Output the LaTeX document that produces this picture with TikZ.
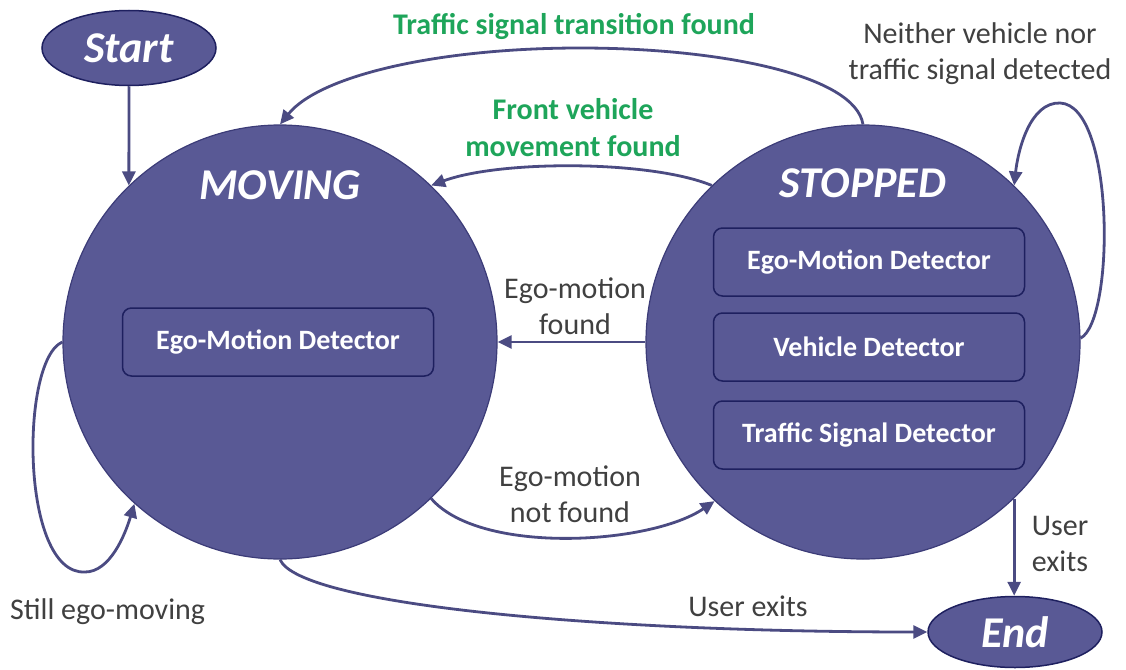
\documentclass[tikz,border=0pt]{standalone}
\usepackage{fontspec}
\setmainfont{Carlito}
\usetikzlibrary{arrows.meta,shapes.geometric}
\definecolor{stfill}{RGB}{89,89,149}
\definecolor{stborder}{RGB}{60,60,120}
\definecolor{boxborder}{RGB}{30,32,95}
\definecolor{connc}{RGB}{75,75,130}
\definecolor{greentxt}{RGB}{30,165,90}
\definecolor{graytxt}{RGB}{64,64,64}
\begin{document}
\begin{tikzpicture}[x=1pt,y=-1pt,
  statecirc/.style={circle, fill=stfill, draw=stborder, line width=1.2pt, minimum size=434pt, inner sep=0pt},
  termnode/.style={ellipse, fill=stfill, draw=boxborder, line width=1.5pt, inner sep=0pt, text=white,
    font=\fontsize{44}{50}\selectfont\bfseries\itshape},
  titletext/.style={text=white, font=\fontsize{44}{50}\selectfont\bfseries\itshape, inner sep=0pt},
  detbox/.style={rounded corners=9pt, draw=boxborder, line width=1.5pt, fill=stfill, text=white,
    font=\fontsize{28}{34}\selectfont\bfseries, minimum width=311pt, minimum height=68pt, inner sep=0pt},
  conn/.style={draw=connc, line width=2.8pt, -{Triangle[length=14pt,width=13pt]}},
  greenlbl/.style={text=greentxt, font=\fontsize{30}{37}\selectfont\bfseries, align=center, inner sep=0pt},
  graylbl/.style={text=graytxt, font=\fontsize{30}{36}\selectfont, align=center, inner sep=0pt},
]
\useasboundingbox (0,0) rectangle (1126,669);

% states
\node[statecirc] (moving) at (280,342) {};
\node[statecirc] (stopped) at (863,342) {};
\node[titletext] (movtitle) at (280,185) {MOVING};
\node[titletext] (stoptitle) at (863,183) {STOPPED};
\node[detbox] (mdet) at (278,342) {Ego-Motion Detector};
\node[detbox] (sdet1) at (869,262) {Ego-Motion Detector};
\node[detbox] (sdet2) at (869,347) {Vehicle Detector};
\node[detbox] (sdet3) at (869,435) {Traffic Signal Detector};

% terminals
\node[termnode, minimum width=174pt, minimum height=75pt] (start) at (129,48) {Start};
\node[termnode, minimum width=174pt, minimum height=71pt] (end) at (1015,632) {End};

% connectors
\draw[conn] (start.south) -- (moving.134);
\draw[conn] (stopped.north) .. controls (855,75) and (720,48) .. (580,48)
            .. controls (440,48) and (320,75) .. (moving.north);
\draw[conn] (stopped.134) .. controls (650,160) and (500,160) .. (moving.46);
\draw[conn] (stopped.west) -- (moving.east);
\draw[conn] (moving.-46) .. controls (480,555) and (650,545) .. (stopped.227);
\draw[conn] (moving.west) .. controls (20,360) and (20,575) .. (85,572)
            .. controls (110,572) and (125,535) .. (moving.228);
\draw[conn] (stopped.1) .. controls (1115,320) and (1115,105) .. (1060,103)
            .. controls (1030,102) and (1018,150) .. (stopped.46);
\draw[conn] (moving.south) .. controls (300,605) and (600,632) .. (end.west);
\draw[conn] (stopped.-46) -- (stopped.-46 |- end.north);

% labels
\node[greenlbl] (tlbl) at (574,26) {Traffic signal transition found};
\node[greenlbl] (flbl) at (573,128) {Front vehicle\\movement found};
\node[graylbl] (nlbl) at (980,54) {Neither vehicle nor\\traffic signal detected};
\node[graylbl] (eflbl) at (575,306) {Ego-motion\\found};
\node[graylbl] (enlbl) at (570,494) {Ego-motion\\not found};
\node[graylbl, anchor=west] (slbl) at (10,612) {Still ego-moving};
\node[graylbl] (ulbl) at (748,606) {User exits};
\node[graylbl] (u2lbl) at (1060,544) {User\\exits};
\end{tikzpicture}
\end{document}
